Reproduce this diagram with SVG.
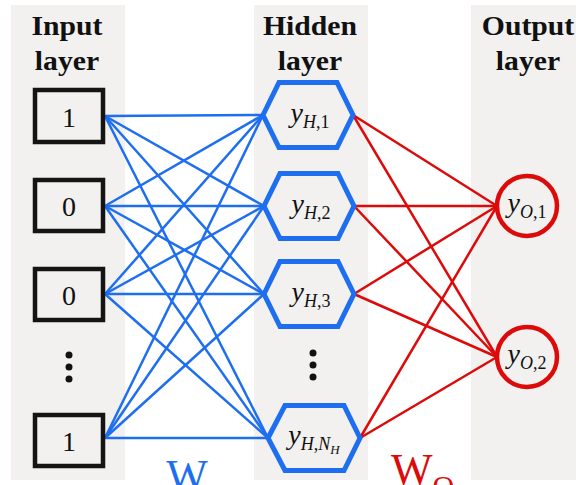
<svg xmlns="http://www.w3.org/2000/svg" width="576" height="485" viewBox="0 0 576 485">
<style>
.panel{fill:#F2F1F0}
.hdr{font-family:"Liberation Serif","Times New Roman",serif;font-weight:bold;font-size:27px;fill:#111;text-anchor:middle}
.box{fill:#F2F1F0;stroke:#141414;stroke-width:4.5}
.num{font-family:"Liberation Serif","Times New Roman",serif;font-size:28px;fill:#111;text-anchor:middle}
.hex{fill:#F2F1F0;stroke:#1E6EF0;stroke-width:5;stroke-linejoin:miter}
.out{fill:#F2F1F0;stroke:#DD0A0A;stroke-width:4.5}
.lbl{font-family:"Liberation Serif","Times New Roman",serif;font-style:italic;font-size:28px;fill:#111;text-anchor:middle}
.sub{font-size:18px}
.up{font-style:normal}
.ssub{font-size:13px}
.blue line{stroke:#1E6EF0;stroke-width:2.5}
.red line{stroke:#DD0A0A;stroke-width:2.5}
.dot{fill:#111}
</style>
<rect width="576" height="485" fill="#fff"/>
<rect class="panel" x="11" y="5" width="114" height="475"/>
<rect class="panel" x="254" y="5" width="114" height="475"/>
<rect class="panel" x="471" y="5" width="105" height="475"/>
<g id="headers">
<text class="hdr" transform="translate(67,0) scale(1.1,1)"><tspan x="0" y="35">Input</tspan><tspan x="0" y="70">layer</tspan></text>
<text class="hdr" transform="translate(310,0) scale(1.1,1)"><tspan x="0" y="35">Hidden</tspan><tspan x="0" y="70">layer</tspan></text>
<text class="hdr" transform="translate(528,0) scale(1.1,1)"><tspan x="0" y="35">Output</tspan><tspan x="0" y="70">layer</tspan></text>
</g>
<g id="connectors">
<g class="blue">
<line x1="105" y1="116" x2="263" y2="115"/><line x1="105" y1="116" x2="264" y2="206"/><line x1="105" y1="116" x2="264" y2="294"/><line x1="105" y1="116" x2="268" y2="438"/>
<line x1="105" y1="206" x2="263" y2="115"/><line x1="105" y1="206" x2="264" y2="206"/><line x1="105" y1="206" x2="264" y2="294"/><line x1="105" y1="206" x2="268" y2="438"/>
<line x1="105" y1="294" x2="263" y2="115"/><line x1="105" y1="294" x2="264" y2="206"/><line x1="105" y1="294" x2="264" y2="294"/><line x1="105" y1="294" x2="268" y2="438"/>
<line x1="105" y1="438" x2="263" y2="115"/><line x1="105" y1="438" x2="264" y2="206"/><line x1="105" y1="438" x2="264" y2="294"/><line x1="105" y1="438" x2="268" y2="438"/>
</g>
<g class="red">
<line x1="353" y1="115" x2="497" y2="206"/><line x1="353" y1="115" x2="497" y2="357"/>
<line x1="354" y1="206" x2="497" y2="206"/><line x1="354" y1="206" x2="497" y2="357"/>
<line x1="354" y1="294" x2="497" y2="206"/><line x1="354" y1="294" x2="497" y2="357"/>
<line x1="360" y1="438" x2="497" y2="206"/><line x1="360" y1="438" x2="497" y2="357"/>
</g>
</g>
<g id="in1"><rect class="box" x="35" y="90" width="68" height="52"/><text class="num" x="69" y="127">1</text></g>
<g id="in2"><rect class="box" x="35" y="180" width="68" height="51"/><text class="num" x="69" y="216">0</text></g>
<g id="in3"><rect class="box" x="35" y="269" width="68" height="51"/><text class="num" x="69" y="305">0</text></g>
<g id="in-dots"><circle class="dot" cx="69" cy="355" r="3.5"/><circle class="dot" cx="69" cy="367" r="3.5"/><circle class="dot" cx="69" cy="379" r="3.5"/></g>
<g id="in4"><rect class="box" x="35" y="415" width="68" height="51"/><text class="num" x="69" y="451">1</text></g>
<g id="h1"><polygon class="hex" points="263,115 279,82.5 337,82.5 353,115 337,147.5 279,147.5"/><text class="lbl" x="310" y="122">y<tspan class="sub" dy="6">H<tspan class="up">,1</tspan></tspan></text></g>
<g id="h2"><polygon class="hex" points="264,206 280,173.5 338,173.5 354,206 338,238.5 280,238.5"/><text class="lbl" x="311" y="213">y<tspan class="sub" dy="6">H<tspan class="up">,2</tspan></tspan></text></g>
<g id="h3"><polygon class="hex" points="264,294 280,261.5 338,261.5 354,294 338,326.5 280,326.5"/><text class="lbl" x="311" y="301">y<tspan class="sub" dy="6">H<tspan class="up">,3</tspan></tspan></text></g>
<g id="h-dots"><circle class="dot" cx="313" cy="353" r="3.5"/><circle class="dot" cx="313" cy="365" r="3.5"/><circle class="dot" cx="313" cy="377" r="3.5"/></g>
<g id="h4"><polygon class="hex" points="268,438 285,405.5 344,405.5 360,438 344,470.5 285,470.5"/><text class="lbl" x="314" y="444">y<tspan class="sub" dy="6">H<tspan class="up">,</tspan>N</tspan><tspan class="ssub" dy="4">H</tspan></text></g>
<g id="o1"><circle class="out" cx="527" cy="206" r="30"/><text class="lbl" x="527" y="212">y<tspan class="sub" dy="6">O<tspan class="up">,1</tspan></tspan></text></g>
<g id="o2"><circle class="out" cx="527" cy="357" r="30"/><text class="lbl" x="527" y="363">y<tspan class="sub" dy="6">O<tspan class="up">,2</tspan></tspan></text></g>
<g id="weights">
<text x="187" y="490" font-family="Liberation Serif,serif" font-size="44" fill="#1E6EF0" text-anchor="middle">W</text>
<text x="391" y="484" font-family="Liberation Serif,serif" font-size="44" fill="#DD0A0A">W<tspan font-size="30" dy="12">O</tspan></text>
</g>
</svg>
